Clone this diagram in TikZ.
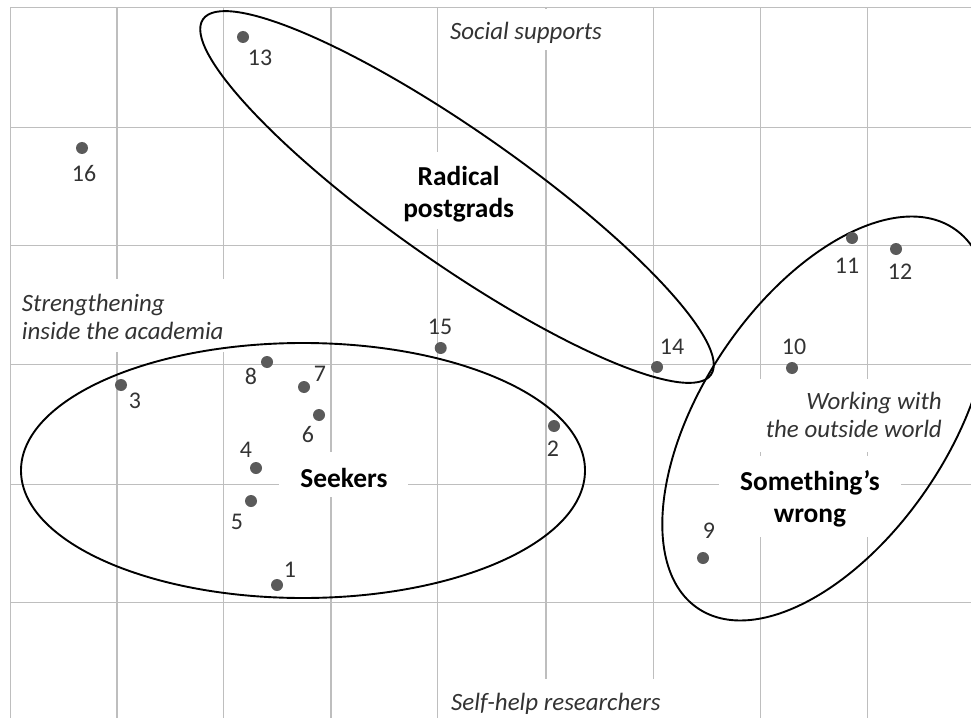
\documentclass[tikz,border=0pt]{standalone}
\usepackage{fontspec}
\setmainfont{Carlito}
\definecolor{gridgray}{HTML}{BEBEBE}
\definecolor{dotgray}{HTML}{5A5A5A}
\definecolor{numgray}{HTML}{333333}
\definecolor{textgray}{HTML}{333333}
\begin{document}
\begin{tikzpicture}[x=1bp,y=-1bp,
  gridline/.style={draw=gridgray, line width=1.3bp},
  mask/.style={fill=white},
  group/.style={draw=black, line width=1.9bp},
  dot/.style={circle, fill=dotgray, inner sep=0pt, minimum size=12bp},
  num/.style={inner sep=0pt, text=numgray, font=\fontsize{24}{28}\selectfont},
  axislabel/.style={inner sep=0pt, text=textgray, font=\fontsize{25}{28.5}\selectfont\itshape},
  grouplabel/.style={inner sep=0pt, text=black, font=\fontsize{27.5}{31.5}\selectfont\bfseries}]
\useasboundingbox (0,0) rectangle (971,718);
\fill[white] (0,0) rectangle (971,718);
% grid
\foreach \x in {10.7,117,223.7,331,437.7,546,653.3,760.3,867.3}
  \draw[gridline] (\x,7.5) -- (\x,718);
\foreach \y in {7.5,127.3,245.7,364.7,484.5,602.3}
  \draw[gridline] (10.7,\y) -- (971,\y);
% white backgrounds behind the texts
\fill[mask] (443,9.2) rectangle (612,50);
\fill[mask] (396,152) rectangle (522,229);
\fill[mask] (12.5,279) rectangle (232,352);
\fill[mask] (279,452) rectangle (408,497);
\fill[mask] (755,379) rectangle (950,452);
\fill[mask] (719,456) rectangle (901,537);
\fill[mask] (444,679) rectangle (668,718);
% group ellipses
\draw[group] (303,470.5) ellipse [x radius=282bp, y radius=127.5bp];
\draw[group, rotate around={-35:(457,197)}] (457,197) ellipse [x radius=310bp, y radius=66bp];
\draw[group, rotate around={56:(826,418.5)}] (826,418.5) ellipse [x radius=229bp, y radius=123bp];
% axis labels
\node[axislabel, anchor=base west] (social) at (450,40) {Social supports};
\node[axislabel, anchor=base west] (selfhelp) at (451,710) {Self-help researchers};
\node[axislabel, anchor=base west] (inside) at (21.7,311)
  {\begin{tabular}[t]{@{}l@{}}Strengthening\\inside the academia\end{tabular}};
\node[axislabel, anchor=base east] (outside) at (942,409)
  {\begin{tabular}[t]{@{}r@{}}Working with\\the outside world\end{tabular}};
% group labels
\node[grouplabel, anchor=base] (radical) at (458.7,185.7)
  {\begin{tabular}[t]{@{}c@{}}Radical\\postgrads\end{tabular}};
\node[grouplabel, anchor=base] (seekers) at (344,487) {Seekers};
\node[grouplabel, anchor=base] (wrong) at (810,490.7)
  {\begin{tabular}[t]{@{}c@{}}Something’s\\wrong\end{tabular}};
% points
\node[dot] (p1) at (277,585) {};
\node[dot] (p2) at (554,426) {};
\node[dot] (p3) at (121,385) {};
\node[dot] (p4) at (256,468) {};
\node[dot] (p5) at (251,501) {};
\node[dot] (p6) at (319,415) {};
\node[dot] (p7) at (304,387) {};
\node[dot] (p8) at (267,362) {};
\node[dot] (p9) at (703,558) {};
\node[dot] (p10) at (792,368) {};
\node[dot] (p11) at (852,238) {};
\node[dot] (p12) at (896,249) {};
\node[dot] (p13) at (243,37) {};
\node[dot] (p14) at (657,367) {};
\node[dot] (p15) at (440.7,348) {};
\node[dot] (p16) at (82,148) {};
% point numbers
\node[num] (l1) at (290,570) {1};
\node[num] (l2) at (553,449) {2};
\node[num] (l3) at (135,401) {3};
\node[num] (l4) at (246,450) {4};
\node[num] (l5) at (237,522) {5};
\node[num] (l6) at (308,435) {6};
\node[num] (l7) at (320,374) {7};
\node[num] (l8) at (251,376) {8};
\node[num] (l9) at (709,531) {9};
\node[num] (l10) at (794,347) {10};
\node[num] (l11) at (847,266) {11};
\node[num] (l12) at (900,272) {12};
\node[num] (l13) at (260,58) {13};
\node[num] (l14) at (672,347) {14};
\node[num] (l15) at (440,327) {15};
\node[num] (l16) at (84,174) {16};
\end{tikzpicture}
\end{document}
